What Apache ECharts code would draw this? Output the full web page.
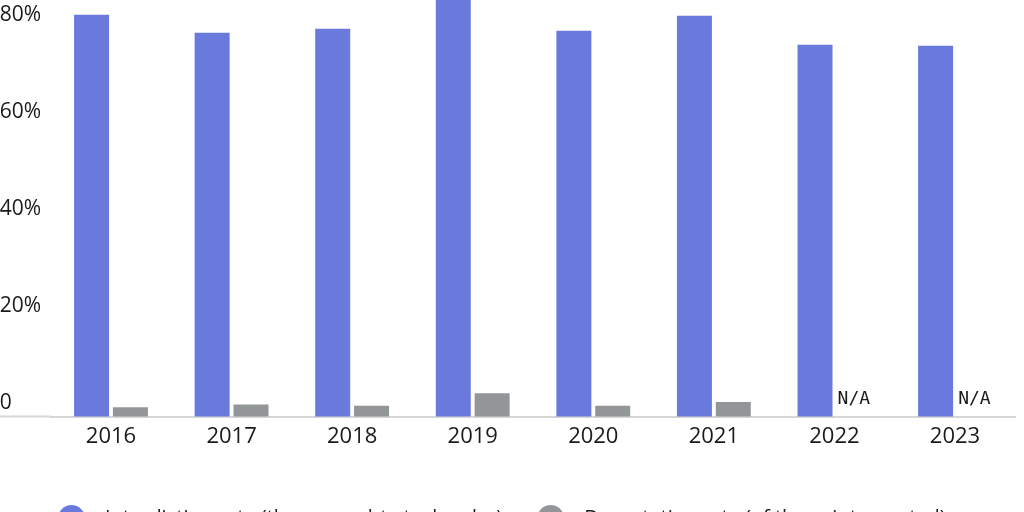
<!DOCTYPE html>
<html>
<head>
<meta charset="utf-8">
<script src="https://cdn.jsdelivr.net/npm/echarts@6/dist/echarts.min.js"></script>
<style>
html,body{margin:0;padding:0;background:#fff;}
#chart{width:1024px;height:512px;}
</style>
</head>
<body>
<div id="chart"></div>
<script>
const years = ['2016','2017','2018','2019','2020','2021','2022','2023'];
const interdictionRate = [82.9, 79.2, 80.0, 87.0, 79.6, 82.7, 76.7, 76.5];
const deportationRate = [1.9, 2.5, 2.2, 4.8, 2.2, 3.0, null, null];
const seriesNames = ['Interdiction rate (those caught at a border)', 'Deportation rate (of those intercepted)'];
const yTicks = [0, 20, 40, 60, 80];

const chart = echarts.init(document.getElementById('chart'));
const fontFamily = '"Open Sans", Roboto, sans-serif';

chart.setOption({
  animation: false,
  backgroundColor: '#ffffff',
  textStyle: { fontFamily: fontFamily },
  graphic: [{
    type: 'line',
    shape: { x1: 0, y1: 416.5, x2: 51, y2: 416.5 },
    style: { stroke: '#d6d6d6', lineWidth: 2 },
    z: 0
  }],
  legend: {
    left: 58,
    top: 505,
    padding: 0,
    itemWidth: 27,
    itemHeight: 27,
    itemGap: 35,
    icon: 'circle',
    textStyle: { fontSize: 20, color: '#1a1a1a', fontFamily: fontFamily, padding: [0, 0, 0, 15] }
  },
  grid: { left: 50.7, right: 8.7, top: 28.8, bottom: 95.5, containLabel: false, outerBoundsMode: 'none' },
  xAxis: {
    type: 'category',
    data: years,
    axisLine: { show: true, lineStyle: { color: '#d6d6d6', width: 2 } },
    axisTick: { show: false },
    axisLabel: { color: '#1a1a1a', fontSize: 22, margin: 9, fontFamily: fontFamily }
  },
  yAxis: {
    type: 'value',
    min: yTicks[0],
    max: yTicks[yTicks.length - 1],
    interval: 20,
    splitLine: { show: false },
    axisLine: { show: false },
    axisTick: { show: false },
    axisLabel: {
      color: '#1a1a1a',
      fontSize: 21,
      lineHeight: 21,
      align: 'left',
      verticalAlign: 'bottom',
      padding: [0, 0, 3, 0],
      margin: 51,
      fontFamily: fontFamily,
      formatter: v => v === 0 ? '0' : v + '%'
    }
  },
  series: [
    {
      name: seriesNames[0],
      type: 'bar',
      data: interdictionRate,
      barWidth: 35,
      barGap: '11%',
      clip: false,
      itemStyle: { color: '#6a7adc' }
    },
    {
      name: seriesNames[1],
      type: 'bar',
      data: deportationRate.map(v => v === null ? { value: 0, label: { show: true } } : v),
      barWidth: 35,
      clip: false,
      itemStyle: { color: '#939697' },
      label: {
        show: false,
        position: 'top',
        distance: 8,
        formatter: 'N/A',
        fontFamily: '"DejaVu Sans Mono", monospace',
        fontSize: 18,
        color: '#1a1a1a'
      }
    }
  ]
});
</script>
</body>
</html>
